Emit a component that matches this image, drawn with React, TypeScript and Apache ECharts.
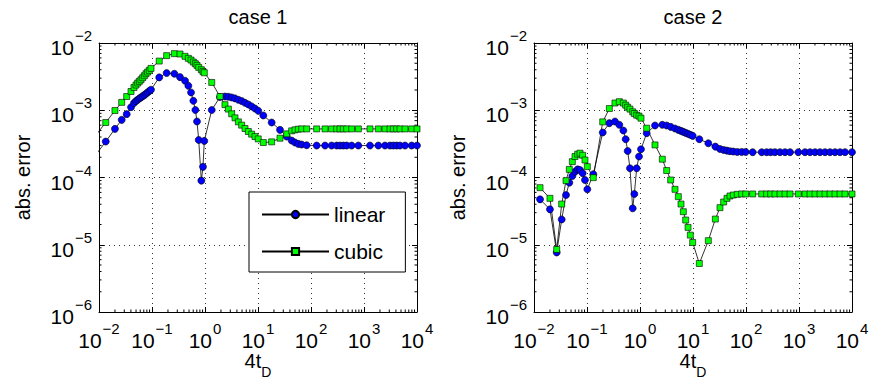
import { useEffect, useRef } from "react";
import * as echarts from "echarts";

const FONT = '"Liberation Sans", Arial, Helvetica, sans-serif';

// ---- data: case 1 ----
const xs1 = [0.0085, 0.0134, 0.02, 0.0268, 0.0333, 0.0402, 0.0457, 0.0499, 0.0537, 0.0577, 0.062, 0.0667, 0.0717, 0.0771, 0.0828, 0.0891, 0.0957, 0.137, 0.189, 0.264, 0.337, 0.42, 0.485, 0.545, 0.603, 0.658, 0.706, 0.761, 0.853, 0.916, 0.97, 1.34, 1.92, 2.38, 2.76, 3.19, 3.68, 4.26, 4.92, 5.69, 6.57, 7.6, 8.78, 10.1, 12.6, 18.1, 26.0, 34.8, 43.2, 49.9, 57.7, 66.7, 82.8, 128, 184, 245, 305, 352, 407, 471, 585, 782, 1298, 1862, 2489, 3097, 3573, 4131, 4776, 5943, 7931, 10000];
const linear1 = [2.12e-4, 3.42e-4, 5.29e-4, 7.2e-4, 8.75e-4, 1.11e-3, 1.28e-3, 1.37e-3, 1.43e-3, 1.5e-3, 1.55e-3, 1.62e-3, 1.68e-3, 1.76e-3, 1.84e-3, 1.93e-3, 2.02e-3, 3.08e-3, 3.57e-3, 3.49e-3, 3.11e-3, 2.75e-3, 2.31e-3, 1.84e-3, 1.38e-3, 1.01e-3, 6.8e-4, 3.62e-4, 8.98e-5, 1.44e-4, 3.5e-4, 1.01e-3, 1.57e-3, 1.6e-3, 1.585e-3, 1.55e-3, 1.5e-3, 1.43e-3, 1.37e-3, 1.29e-3, 1.22e-3, 1.14e-3, 1.06e-3, 9.8e-4, 8.36e-4, 6.57e-4, 5.11e-4, 4.06e-4, 3.54e-4, 3.31e-4, 3.16e-4, 3.09e-4, 3.02e-4, 2.985e-4, 2.985e-4, 2.985e-4, 2.985e-4, 2.985e-4, 2.985e-4, 2.985e-4, 2.985e-4, 2.985e-4, 2.985e-4, 2.985e-4, 2.985e-4, 2.985e-4, 2.985e-4, 2.985e-4, 2.985e-4, 2.985e-4, 2.985e-4, 2.985e-4];
const cubic1 = [4.16e-4, 6.57e-4, 9.9e-4, 1.31e-3, 1.6e-3, 1.9e-3, 2.18e-3, 2.37e-3, 2.54e-3, 2.69e-3, 2.84e-3, 3.04e-3, 3.26e-3, 3.49e-3, 3.7e-3, 3.92e-3, 4.19e-3, 5.39e-3, 6.48e-3, 6.94e-3, 6.86e-3, 6.33e-3, 5.91e-3, 5.58e-3, 5.21e-3, 4.92e-3, 4.65e-3, 4.34e-3, 4.01e-3, 3.78e-3, 3.61e-3, 2.59e-3, 1.6e-3, 1.21e-3, 1.04e-3, 8.85e-4, 7.71e-4, 6.72e-4, 6.0e-4, 5.35e-4, 4.83e-4, 4.41e-4, 4.06e-4, 3.75e-4, 3.31e-4, 3.39e-4, 3.84e-4, 4.46e-4, 4.94e-4, 5.11e-4, 5.23e-4, 5.28e-4, 5.28e-4, 5.28e-4, 5.28e-4, 5.28e-4, 5.28e-4, 5.28e-4, 5.28e-4, 5.28e-4, 5.28e-4, 5.28e-4, 5.28e-4, 5.28e-4, 5.28e-4, 5.28e-4, 5.28e-4, 5.28e-4, 5.28e-4, 5.28e-4, 5.28e-4, 5.28e-4];

// ---- data: case 2 ----
const xs2 = [0.013, 0.02, 0.0268, 0.0333, 0.0402, 0.0464, 0.0529, 0.0594, 0.0667, 0.0738, 0.0828, 0.0916, 0.1014, 0.1315, 0.198, 0.264, 0.337, 0.407, 0.485, 0.537, 0.585, 0.647, 0.728, 0.782, 0.865, 0.957, 1.044, 1.336, 1.919, 2.638, 3.186, 3.793, 4.573, 5.286, 5.94, 6.57, 7.28, 8.06, 8.91, 9.86, 13.16, 19.46, 26.4, 32.3, 37.9, 43.8, 49.9, 57.7, 68.6, 82.8, 98.6, 133.6, 197.7, 245, 292, 352, 438, 545, 677, 971, 1298, 1614, 2005, 2489, 3097, 3846, 4776, 5943, 7379, 10000];
const linear2 = [4.73e-5, 3.36e-5, 7.67e-6, 2.38e-5, 5.49e-5, 8.38e-5, 1.05e-4, 1.22e-4, 1.32e-4, 1.29e-4, 1.16e-4, 9.18e-5, 6.67e-5, 1.12e-4, 4.67e-4, 6.43e-4, 6.8e-4, 6.07e-4, 4.99e-4, 3.71e-4, 2.48e-4, 1.37e-4, 3.48e-5, 5.69e-5, 1.37e-4, 2.05e-4, 2.63e-4, 4.56e-4, 5.93e-4, 6.07e-4, 5.93e-4, 5.66e-4, 5.35e-4, 5.11e-4, 4.94e-4, 4.77e-4, 4.61e-4, 4.46e-4, 4.31e-4, 4.16e-4, 3.71e-4, 3.23e-4, 2.88e-4, 2.66e-4, 2.57e-4, 2.51e-4, 2.46e-4, 2.43e-4, 2.4e-4, 2.4e-4, 2.4e-4, 2.38e-4, 2.38e-4, 2.38e-4, 2.38e-4, 2.38e-4, 2.38e-4, 2.38e-4, 2.38e-4, 2.38e-4, 2.38e-4, 2.38e-4, 2.38e-4, 2.38e-4, 2.38e-4, 2.38e-4, 2.38e-4, 2.38e-4, 2.38e-4, 2.38e-4];
const cubic2 = [7.06e-5, 4.9e-5, 8.51e-6, 4.03e-5, 8.98e-5, 1.32e-4, 1.72e-4, 2.05e-4, 2.22e-4, 2.3e-4, 2.14e-4, 1.82e-4, 1.45e-4, 9.95e-5, 6.72e-4, 1.06e-3, 1.28e-3, 1.34e-3, 1.28e-3, 1.19e-3, 1.11e-3, 1.04e-3, 9.48e-4, 8.95e-4, 8.45e-4, 8.17e-4, 7.62e-4, 5.41e-4, 3.05e-4, 1.87e-4, 1.27e-4, 9.18e-5, 6.67e-5, 5.19e-5, 4.03e-5, 3.1e-5, 2.33e-5, 1.81e-5, 1.39e-5, 1.08e-5, 5.26e-6, 1.15e-5, 2.41e-5, 3.56e-5, 4.32e-5, 4.9e-5, 5.31e-5, 5.49e-5, 5.62e-5, 5.69e-5, 5.69e-5, 5.69e-5, 5.69e-5, 5.69e-5, 5.69e-5, 5.69e-5, 5.69e-5, 5.69e-5, 5.69e-5, 5.69e-5, 5.69e-5, 5.69e-5, 5.69e-5, 5.69e-5, 5.69e-5, 5.69e-5, 5.69e-5, 5.69e-5, 5.69e-5, 5.69e-5];

const titles = ["case 1", "case 2"];
const seriesNames = ["linear", "cubic"];
const xAxisTitle = "{b|4t}{d|D}";
const yAxisTitle = "abs. error";
const xRange = [0.01, 10000];
const yRange = [1e-6, 1e-2];
const xDecades = [0.01, 0.1, 1, 10, 100, 1000];
const yDecades = [1e-6, 1e-5, 1e-4, 1e-3];
const minorSteps = [2, 3, 4, 5, 6, 7, 8, 9];

const GRIDS = [
  { left: 99, top: 43, width: 318, height: 269 },
  { left: 534, top: 43, width: 318, height: 269 },
];

function pairs(xs: number[], ys: number[]) {
  return xs.map((x, i) => [x, ys[i]]);
}

function expLabel(v: number) {
  const e = Math.round(Math.log10(v));
  const s = e < 0 ? "\u2212" + String(-e) : String(e);
  return `{b|10}{s|${s}}`;
}

const labelRich = {
  b: { fontSize: 21, fontFamily: FONT, color: "#000", lineHeight: 30, verticalAlign: "bottom" },
  s: { fontSize: 15, fontFamily: FONT, color: "#000", lineHeight: 14, verticalAlign: "top", padding: [0, 0, 0, 1] },
};

function minorData() {
  const out: number[][] = [];
  xDecades.forEach((d) => minorSteps.forEach((m) => out.push([d * m, 1e-4, 0])));
  yDecades.forEach((d) => minorSteps.forEach((m) => out.push([1, d * m, 1])));
  return out;
}

function App() {
  const ref = useRef<HTMLDivElement>(null);
  useEffect(() => {
    if (!ref.current) return;
    const chart = echarts.init(ref.current, null, { renderer: "svg" });
    const xAxes: any[] = [];
    const yAxes: any[] = [];
    const series: any[] = [];
    GRIDS.forEach((_, g) => {
      const axisCommon = {
        type: "log",
        logBase: 10,
        gridIndex: g,
        nameMoveOverlap: false,
        axisLine: { show: true, onZero: false, lineStyle: { color: "#000", width: 1 } },
        axisTick: { show: true, inside: true, length: 5, lineStyle: { color: "#000", width: 1 } },
      };
      xAxes.push({
        ...axisCommon,
        position: "bottom",
        min: xRange[0],
        max: xRange[1],
        axisLabel: { formatter: expLabel, rich: labelRich, margin: 9, color: "#000" },
        splitLine: { show: true, lineStyle: { color: "#000", width: 0.8, type: [1, 4] } },
        name: xAxisTitle,
        nameLocation: "middle",
        nameGap: 39,
        nameTextStyle: {
          rich: {
            b: { fontSize: 20, fontFamily: FONT, color: "#000", lineHeight: 22, verticalAlign: "top" },
            d: { fontSize: 14, fontFamily: FONT, color: "#000", lineHeight: 14, padding: [14, 0, 0, 0], verticalAlign: "top" },
          },
        },
      });
      xAxes.push({
        ...axisCommon,
        position: "top",
        min: xRange[0],
        max: xRange[1],
        axisLabel: { show: false },
        splitLine: { show: false },
        name: titles[g],
        nameLocation: "middle",
        nameGap: 16,
        nameTextStyle: { fontSize: 20, fontFamily: FONT, color: "#000" },
      });
      yAxes.push({
        ...axisCommon,
        position: "left",
        min: yRange[0],
        max: yRange[1],
        axisLabel: { formatter: expLabel, rich: labelRich, margin: 7, color: "#000" },
        splitLine: { show: true, lineStyle: { color: "#000", width: 0.8, type: [1, 4] } },
        name: yAxisTitle,
        nameLocation: "middle",
        nameRotate: 90,
        nameGap: 66,
        nameTextStyle: { fontSize: 20, fontFamily: FONT, color: "#000" },
      });
      yAxes.push({
        ...axisCommon,
        position: "right",
        min: yRange[0],
        max: yRange[1],
        axisLabel: { show: false },
        splitLine: { show: false },
      });
      const xi = g * 2;
      const yi = g * 2;
      const lin = g === 0 ? pairs(xs1, linear1) : pairs(xs2, linear2);
      const cub = g === 0 ? pairs(xs1, cubic1) : pairs(xs2, cubic2);
      series.push({
        type: "line",
        name: seriesNames[0],
        xAxisIndex: xi,
        yAxisIndex: yi,
        data: lin,
        symbol: "circle",
        symbolSize: 7,
        showSymbol: true,
        clip: true,
        silent: true,
        itemStyle: { color: "#0000ff", borderColor: "#000", borderWidth: 0.6 },
        lineStyle: { color: "#000", width: 0.8 },
        emphasis: { disabled: true },
        z: 3,
      });
      series.push({
        type: "line",
        name: seriesNames[1],
        xAxisIndex: xi,
        yAxisIndex: yi,
        data: cub,
        symbol: "rect",
        symbolSize: 6,
        showSymbol: true,
        clip: true,
        silent: true,
        itemStyle: { color: "#00ff00", borderColor: "#000", borderWidth: 0.6 },
        lineStyle: { color: "#000", width: 0.8 },
        emphasis: { disabled: true },
        z: 3,
      });
      series.push({
        type: "custom",
        xAxisIndex: xi,
        yAxisIndex: yi,
        data: minorData(),
        silent: true,
        clip: false,
        z: 2,
        encode: { x: 0, y: 1 },
        renderItem: (_p: any, api: any) => {
          const kind = api.value(2);
          const L = 2.5;
          const st = { stroke: "#000", lineWidth: 1 };
          if (kind === 0) {
            const v = api.value(0);
            const b = api.coord([v, yRange[0]]);
            const t = api.coord([v, yRange[1]]);
            return {
              type: "group",
              children: [
                { type: "line", shape: { x1: b[0], y1: b[1], x2: b[0], y2: b[1] - L }, style: st },
                { type: "line", shape: { x1: t[0], y1: t[1], x2: t[0], y2: t[1] + L }, style: st },
              ],
            };
          }
          const v = api.value(1);
          const l = api.coord([xRange[0], v]);
          const r = api.coord([xRange[1], v]);
          return {
            type: "group",
            children: [
              { type: "line", shape: { x1: l[0], y1: l[1], x2: l[0] + L, y2: l[1] }, style: st },
              { type: "line", shape: { x1: r[0], y1: r[1], x2: r[0] - L, y2: r[1] }, style: st },
            ],
          };
        },
      });
    });

    chart.setOption({
      animation: false,
      backgroundColor: "#fff",
      grid: GRIDS.map((g) => ({ ...g, containLabel: false, outerBoundsMode: "none" })),
      xAxis: xAxes,
      yAxis: yAxes,
      legend: {
        data: seriesNames,
        orient: "vertical",
        left: 249,
        top: 192,
        padding: [12, 20, 10, 12],
        itemGap: 16,
        itemWidth: 67,
        itemHeight: 9,
        backgroundColor: "#fff",
        borderColor: "#000",
        borderWidth: 1,
        borderRadius: 0,
        selectedMode: false,
        textStyle: { fontSize: 21, fontFamily: FONT, color: "#000", lineHeight: 20 },
      },
      series,
    });
    return () => chart.dispose();
  }, []);
  return <div ref={ref} style={{ position: "absolute", left: 0, top: 0, width: 872, height: 380 }} />;
}

export default App;
